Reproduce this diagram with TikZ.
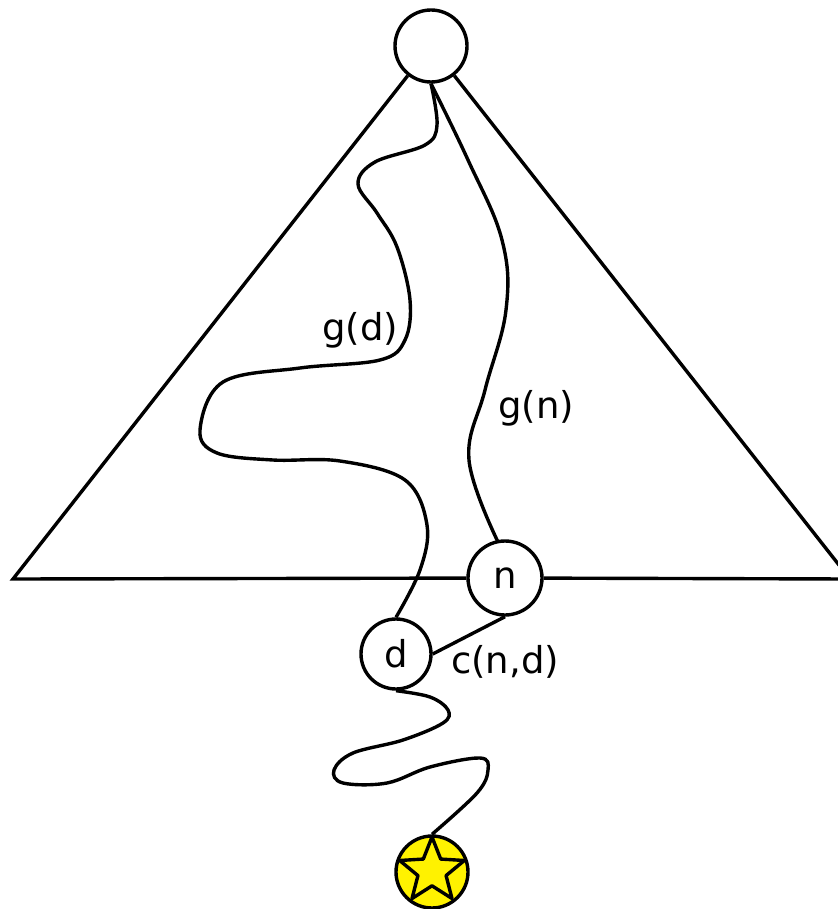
\documentclass[tikz,border=0pt]{standalone}
\usepackage{fontspec}
\setmainfont{DejaVu Sans}
\usetikzlibrary{shapes.geometric}
\begin{document}
\begin{tikzpicture}[x=0.5pt,y=-0.5pt,line width=1.7pt,
  statenode/.style={circle,draw,line width=1.7pt,inner sep=0pt},
  lbl/.style={font=\fontsize{18.5}{21}\selectfont},
  curve/.style={line width=1.7pt}]
\useasboundingbox (0,0) rectangle (838,909);
\clip (0,0) rectangle (838,909);
\node[statenode,minimum size=36pt] (top) at (431,46) {};
\node[statenode,minimum size=37pt,lbl] (n) at (505,578) {n};
\node[statenode,minimum size=35pt,lbl] (d) at (396,654) {d};
\node[statenode,minimum size=36pt,fill=yellow] (goal) at (432,872) {};
\node[star,star points=5,star point ratio=2.3,draw,fill=yellow,line width=1.7pt,line join=round,minimum size=34pt,inner sep=0pt] (starmark) at (432,871) {};
\coordinate (L) at (13,579);
\coordinate (R) at (850,579);
\draw (top) -- (L) -- (n) -- (R) -- (top);
\draw (n.south) -- (d.east);
\draw[curve] plot[smooth,tension=0.6] coordinates {(top.south) (437,125) (425,145) (375,162) (358,184) (377,213) (397,247) (410,300) (405,340) (380,360) (300,368) (223,382) (200,430) (217,453) (273,460) (340,461) (405,480) (427,525) (420,570) (d.north)};
\draw[curve] plot[smooth,tension=0.65] coordinates {(top.south) (468,160) (502,240) (506,310) (485,390) (469,460) (498,542)};
\draw[curve] plot[smooth,tension=0.6] coordinates {(d.south) (430,697) (448,710) (443,723) (403,740) (353,753) (334,770) (343,783) (387,783) (430,767) (480,758) (488,770) (477,793) (goal.north)};
\node[lbl] (gd) at (360,330) {g(d)};
\node[lbl] (gn) at (536,408) {g(n)};
\node[lbl] (cnd) at (505,662) {c(n,d)};
\end{tikzpicture}
\end{document}
